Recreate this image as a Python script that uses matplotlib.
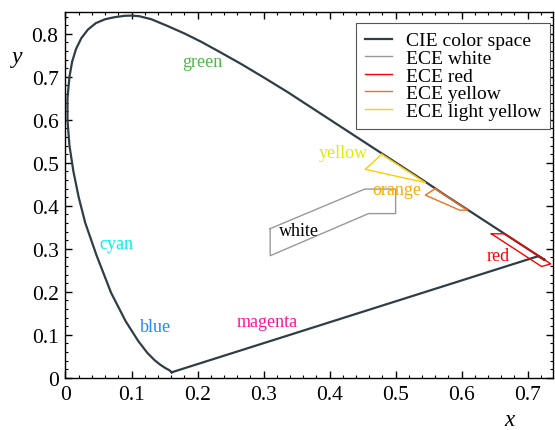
import matplotlib
matplotlib.use("Agg")
import matplotlib.pyplot as plt
from matplotlib.ticker import MultipleLocator, FuncFormatter

locus_x = [0.161, 0.157, 0.151, 0.144, 0.135, 0.124, 0.110, 0.091, 0.069, 0.047,
           0.030, 0.020, 0.012, 0.006, 0.003, 0.003, 0.006, 0.010, 0.016, 0.024,
           0.034, 0.046, 0.060, 0.075, 0.090, 0.100, 0.112, 0.130, 0.155, 0.180,
           0.205, 0.230, 0.266, 0.302, 0.337, 0.373, 0.409, 0.444, 0.479, 0.513,
           0.545, 0.575, 0.603, 0.627, 0.648, 0.666, 0.680, 0.692, 0.701, 0.708,
           0.714, 0.719, 0.726]
locus_y = [0.013, 0.018, 0.023, 0.030, 0.041, 0.058, 0.086, 0.132, 0.198, 0.285,
           0.360, 0.420, 0.480, 0.540, 0.600, 0.650, 0.700, 0.735, 0.765, 0.790,
           0.810, 0.825, 0.834, 0.839, 0.842, 0.8425, 0.841, 0.834, 0.818, 0.801,
           0.782, 0.761, 0.730, 0.697, 0.664, 0.628, 0.592, 0.557, 0.522, 0.488,
           0.456, 0.425, 0.397, 0.373, 0.352, 0.334, 0.320, 0.308, 0.299, 0.292,
           0.286, 0.281, 0.274]
# Purple line: from near the red end back to the blue end
purple_x = [0.716, 0.161]
purple_y = [0.283, 0.013]

white_x = [0.310, 0.453, 0.500, 0.500, 0.459, 0.310, 0.310]
white_y = [0.347, 0.439, 0.439, 0.382, 0.382, 0.284, 0.347]
red_x = [0.645, 0.665, 0.735, 0.721, 0.645]
red_y = [0.335, 0.335, 0.265, 0.259, 0.335]
yellow_x = [0.560, 0.545, 0.597, 0.609, 0.560]
yellow_y = [0.440, 0.425, 0.390, 0.390, 0.440]
lightyellow_x = [0.479, 0.454, 0.545, 0.479]
lightyellow_y = [0.520, 0.485, 0.454, 0.520]

labels = ["green", "yellow", "orange", "white", "red", "cyan", "blue", "magenta"]
label_x = [0.208, 0.421, 0.502, 0.354, 0.656, 0.077, 0.136, 0.306]
label_y = [0.736, 0.524, 0.439, 0.342, 0.285, 0.313, 0.120, 0.132]
label_colors = ["#4cb848", "#ddee00", "#ffaa00", "#000000", "#ff0000",
                "#00eeee", "#1e88ff", "#ff1493"]

plt.rcParams['font.family'] = ['Liberation Serif', 'DejaVu Serif']

fig = plt.figure(figsize=(5.55, 4.31), dpi=100)
ax = fig.add_axes([0.118, 0.121, 0.878, 0.848])

lx = list(locus_x) + purple_x
ly = list(locus_y) + purple_y
ax.plot(lx, ly, color="#2f3d46", lw=1.6, label="CIE color space", zorder=3,
        solid_joinstyle='round')
ax.plot(white_x, white_y, color="#999999", lw=1.0, label="ECE white")
ax.plot(red_x, red_y, color="#ff0000", lw=1.0, label="ECE red", zorder=4)
ax.plot(yellow_x, yellow_y, color="#f07020", lw=1.0, label="ECE yellow", zorder=4)
ax.plot(lightyellow_x, lightyellow_y, color="#ffcc00", lw=1.0, label="ECE light yellow", zorder=4)

for t, x, y, c in zip(labels, label_x, label_y, label_colors):
    ax.text(x, y, t, color=c, fontsize=13, ha='center', va='center', zorder=5)

ax.set_xlim(0, 0.738)
ax.set_ylim(0, 0.85)
ax.xaxis.set_major_locator(MultipleLocator(0.1))
ax.xaxis.set_minor_locator(MultipleLocator(0.02))
ax.yaxis.set_major_locator(MultipleLocator(0.1))
ax.yaxis.set_minor_locator(MultipleLocator(0.02))
fmt = FuncFormatter(lambda v, p: ("%.1f" % v).rstrip('0').rstrip('.') if abs(v) > 1e-9 else "0")
ax.xaxis.set_major_formatter(fmt)
ax.yaxis.set_major_formatter(fmt)
ax.tick_params(which='both', direction='in', top=True, right=True, labelsize=15.5)
ax.tick_params(which='major', length=5, width=1)
ax.tick_params(which='minor', length=2.5, width=0.8)
ax.tick_params(axis='x', which='major', pad=5)
ax.tick_params(axis='y', which='major', pad=5)
for s in ax.spines.values():
    s.set_linewidth(1.0)

fig.text(509 / 555, 0.0, "x", fontsize=16.5, style='italic', ha='center', va='bottom')
fig.text(17 / 555, 1 - 57 / 431, "y", fontsize=17, style='italic', ha='center', va='center')

leg = ax.legend(loc='upper right', fontsize=14, frameon=True, fancybox=False,
                edgecolor='#555555', framealpha=1, handlelength=1.4,
                labelspacing=0.0, borderpad=0.45, handletextpad=0.7,
                borderaxespad=0, bbox_to_anchor=(0.9943, 0.971))
leg.get_frame().set_linewidth(0.8)

fig.savefig("out.png", dpi=100)
